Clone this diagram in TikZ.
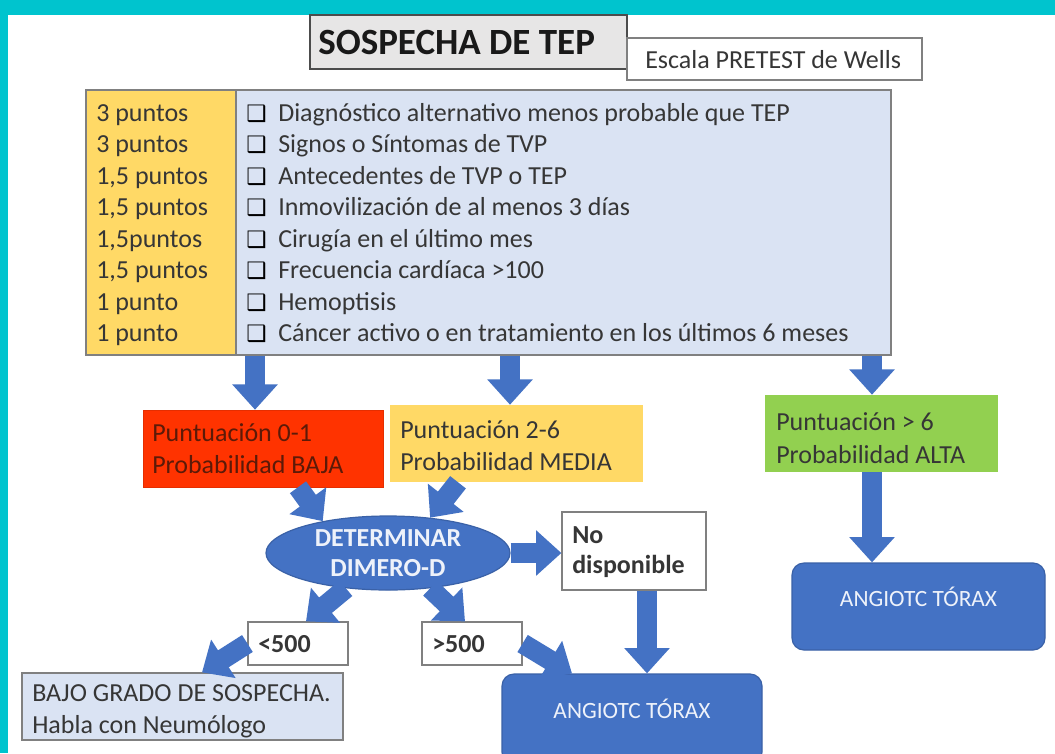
\documentclass[tikz,border=0pt]{standalone}
\usepackage{fontspec}
\setmainfont{Carlito}
\newfontfamily\dejavu{DejaVu Sans}
\usetikzlibrary{arrows.meta,shapes.geometric,fit}
\definecolor{cyanbg}{HTML}{00C4CE}
\definecolor{abl}{HTML}{4472C4}
\definecolor{ylw}{HTML}{FFD966}
\definecolor{lbl}{HTML}{DAE3F3}
\definecolor{rd}{HTML}{FF3300}
\definecolor{grn}{HTML}{92D050}
\definecolor{gbox}{HTML}{E7E6E6}
\definecolor{brd}{HTML}{808080}
\definecolor{txt}{HTML}{363636}
\definecolor{rtxt}{HTML}{5C1A08}
\definecolor{wtxt}{HTML}{EEF2FA}
\begin{document}
\begin{tikzpicture}[x=0.75pt,y=-0.75pt,
  box/.style={draw=brd, line width=0.9pt, inner sep=0pt},
  txtn/.style={inner sep=0pt, anchor=base west, text=txt, font=\fontsize{19.5}{23.6}\selectfont},
  btxt/.style={txtn, font=\fontsize{19.5}{23.6}\selectfont\bfseries},
  chk/.style={inner sep=0pt, anchor=base west, text=black, font=\dejavu\fontsize{17}{19}\selectfont},
  angio/.style={inner sep=0pt, fill=abl, draw=abl!85!black, line width=0.9pt, rounded corners=9pt,
    text=wtxt, font=\fontsize{17.5}{20}\selectfont},
  barrow/.style={draw=abl, line width=15pt, -{Triangle[width=33pt,length=19pt]}},
]
\useasboundingbox (0,0) rectangle (1055,753);
\clip (0,0) rectangle (1055,753);
\fill[white] (0,0) rectangle (1055,753);
\fill[cyanbg] (0,0) rectangle (1055,15);
\fill[cyanbg] (0,0) rectangle (8,753);

% title boxes
\node[box, draw=black!70, fill=gbox, fit={(310,15) (627,69)}] (sos) {};
\node[txtn, text=black!90, font=\fontsize{27.75}{32}\selectfont\bfseries] (sostxt) at (318,54) {SOSPECHA DE TEP};
\node[box, fill=white, fit={(627,38) (922,80)}] (esc) {};
\node[txtn] (esctxt) at (645,68) {Escala PRETEST de Wells};

% criteria table
\node[box, fill=ylw, fit={(86,90) (236,355)}] (pts) {};
\node[box, fill=lbl, fit={(236,90) (891,355)}] (lst) {};

\node[txtn] (p1) at (96,121)   {3 puntos};
\node[txtn] (p2) at (96,152.5) {3 puntos};
\node[txtn] (p3) at (96,184)   {1,5 puntos};
\node[txtn] (p4) at (96,215.5) {1,5 puntos};
\node[txtn] (p5) at (96,247)   {1,5puntos};
\node[txtn] (p6) at (96,278.5) {1,5 puntos};
\node[txtn] (p7) at (96,310)   {1 punto};
\node[txtn] (p8) at (96,341.5) {1 punto};

\node[chk] (c1) at (246,121)   {❑};
\node[chk] (c2) at (246,152.5) {❑};
\node[chk] (c3) at (246,184)   {❑};
\node[chk] (c4) at (246,215.5) {❑};
\node[chk] (c5) at (246,247)   {❑};
\node[chk] (c6) at (246,278.5) {❑};
\node[chk] (c7) at (246,310)   {❑};
\node[chk] (c8) at (246,341.5) {❑};

\node[txtn] (t1) at (278,121)   {Diagnóstico alternativo menos probable que TEP};
\node[txtn] (t2) at (278,152.5) {Signos o Síntomas de TVP};
\node[txtn] (t3) at (278,184)   {Antecedentes de TVP o TEP};
\node[txtn] (t4) at (278,215.5) {Inmovilización de al menos 3 días};
\node[txtn] (t5) at (278,247)   {Cirugía en el último mes};
\node[txtn] (t6) at (278,278.5) {Frecuencia cardíaca >100};
\node[txtn] (t7) at (278,310)   {Hemoptisis};
\node[txtn] (t8) at (278,341.5) {Cáncer activo o en tratamiento en los últimos 6 meses};

% probability boxes
\node[inner sep=0pt, fill=rd, draw=rd!90!black, fit={(143,410) (383,487)}] (red) {};
\node[txtn, text=rtxt] (red1) at (152,441) {Puntuación 0-1};
\node[txtn, text=rtxt] (red2) at (152,473) {Probabilidad BAJA};

\node[inner sep=0pt, fill=ylw, fit={(390,405) (643,482)}] (med) {};
\node[txtn] (med1) at (400,438) {Puntuación 2-6};
\node[txtn] (med2) at (400,470) {Probabilidad MEDIA};

\node[inner sep=0pt, fill=grn, fit={(765,395) (998,472)}] (alt) {};
\node[txtn] (alt1) at (776,430) {Puntuación > 6};
\node[txtn] (alt2) at (776,463) {Probabilidad ALTA};

% D-dimer
\node[ellipse, fill=abl, draw=abl!85!black, line width=0.9pt, minimum width=183pt, minimum height=55.5pt,
  inner sep=0pt, text=wtxt, align=center, font=\fontsize{19.5}{22.5}\selectfont\bfseries] (ell) at (388,553)
  {DETERMINAR\\DIMERO-D};

\node[box, fill=white, fit={(562,512) (706,590)}] (nod) {};
\node[btxt] (nod1) at (572,543) {No};
\node[btxt] (nod2) at (572,573) {disponible};

\node[box, fill=white, fit={(248,622) (348,665)}] (lt) {};
\node[btxt] (lttxt) at (258,652) {<500};
\node[box, fill=white, fit={(422,622) (522,665)}] (gt) {};
\node[btxt] (gttxt) at (432,652) {>500};

\node[box, fill=lbl, fit={(22,673) (343,740)}] (bajo) {};
\node[txtn] (bajo1) at (32,701) {BAJO GRADO DE SOSPECHA.};
\node[txtn] (bajo2) at (32,733) {Habla con Neumólogo};

\node[angio, fit={(502,674) (762,764)}] (ang1) {ANGIOTC TÓRAX};
\node[angio, fit={(792,563) (1045,650)}] (ang2) {ANGIOTC TÓRAX};

% arrow guide coordinates
\coordinate (xa) at (255,0);
\coordinate (xb) at (510,0);
\coordinate (xc) at (872,0);
\coordinate (xd) at (647,0);
\coordinate (xr) at (298,0);
\coordinate (xm) at (458,0);
\coordinate (xe) at (306,0);
\coordinate (xg) at (465,0);
\coordinate (xf) at (202,0);
\coordinate (xh) at (572,0);

% arrows
\draw[barrow] (lst.south -| xa) -- (red.north -| xa);
\draw[barrow] (lst.south -| xb) -- (med.north -| xb);
\draw[barrow] (lst.south -| xc) -- (alt.north -| xc);
\draw[barrow] (alt.south -| xc) -- (ang2.north -| xc);
\draw[barrow] (red.south -| xr) -- (ell.154);
\draw[barrow] (med.south -| xm) -- (ell.40);
\draw[barrow] (ell.east) -- (ell.east -| nod.west);
\draw[barrow] (nod.south -| xd) -- (ang1.north -| xd);
\draw[barrow] (ell.220) -- (lt.north -| xe);
\draw[barrow] (ell.320) -- (gt.north -| xg);
\draw[barrow] (lt.west) -- (bajo.north -| xf);
\draw[barrow] (gt.east) -- (ang1.north -| xh);
\end{tikzpicture}
\end{document}
